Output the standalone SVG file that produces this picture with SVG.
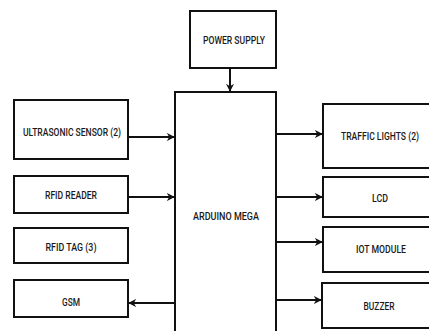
<svg xmlns="http://www.w3.org/2000/svg" width="429" height="331" viewBox="0 0 429 331">
<style>
.box{fill:#fff;stroke:#111;stroke-width:2}
.lbl{font-family:Roboto,"Liberation Sans",sans-serif;font-size:10.5px;font-weight:500;fill:#1a1a1a;text-anchor:middle;dominant-baseline:central}
.con{stroke:#111;stroke-width:2;fill:none}
</style>
<defs>
<marker id="ah" viewBox="0 0 10 10" refX="9" refY="5" markerWidth="4" markerHeight="4" orient="auto" markerUnits="strokeWidth">
<path d="M0,0 L10,5 L0,10 L3,5 Z" fill="#111"/>
</marker>
</defs>
<rect width="429" height="331" fill="#fff"/>
<g id="power-supply"><rect class="box" x="190" y="11" width="86" height="57"/><text class="lbl" x="234" y="40" textLength="62" lengthAdjust="spacingAndGlyphs">POWER SUPPLY</text></g>
<g id="arduino-mega"><rect class="box" x="175" y="92" width="101" height="250"/><text class="lbl" x="226" y="216" textLength="66" lengthAdjust="spacingAndGlyphs">ARDUINO MEGA</text></g>
<g id="ultrasonic"><rect class="box" x="14" y="100" width="114" height="59"/><text class="lbl" x="72" y="132" textLength="98" lengthAdjust="spacingAndGlyphs">ULTRASONIC SENSOR (2)</text></g>
<g id="rfid-reader"><rect class="box" x="14" y="176" width="114" height="37"/><text class="lbl" x="71" y="195" textLength="52" lengthAdjust="spacingAndGlyphs">RFID READER</text></g>
<g id="rfid-tag"><rect class="box" x="14" y="228" width="114" height="35"/><text class="lbl" x="71" y="247" textLength="51" lengthAdjust="spacingAndGlyphs">RFID TAG (3)</text></g>
<g id="gsm"><rect class="box" x="14" y="280" width="114" height="37"/><text class="lbl" x="71" y="302" textLength="18" lengthAdjust="spacingAndGlyphs">GSM</text></g>
<g id="traffic-lights"><rect class="box" x="323" y="104" width="110" height="64"/><text class="lbl" x="380" y="136" textLength="78" lengthAdjust="spacingAndGlyphs">TRAFFIC LIGHTS (2)</text></g>
<g id="lcd"><rect class="box" x="323" y="177" width="110" height="40"/><text class="lbl" x="380" y="198" textLength="16" lengthAdjust="spacingAndGlyphs">LCD</text></g>
<g id="iot-module"><rect class="box" x="323" y="227" width="110" height="45"/><text class="lbl" x="381" y="249" textLength="50" lengthAdjust="spacingAndGlyphs">IOT MODULE</text></g>
<g id="buzzer"><rect class="box" x="322" y="283" width="110" height="45"/><text class="lbl" x="379" y="306" textLength="31" lengthAdjust="spacingAndGlyphs">BUZZER</text></g>
<g id="connectors">
<line class="con" x1="230" y1="68" x2="230" y2="91" marker-end="url(#ah)"/>
<line class="con" x1="128" y1="137" x2="174" y2="137" marker-end="url(#ah)"/>
<line class="con" x1="128" y1="197" x2="174" y2="197" marker-end="url(#ah)"/>
<line class="con" x1="175" y1="303" x2="129" y2="303" marker-end="url(#ah)"/>
<line class="con" x1="276" y1="134" x2="322" y2="134" marker-end="url(#ah)"/>
<line class="con" x1="276" y1="197" x2="322" y2="197" marker-end="url(#ah)"/>
<line class="con" x1="276" y1="242" x2="322" y2="242" marker-end="url(#ah)"/>
<line class="con" x1="276" y1="300" x2="321" y2="300" marker-end="url(#ah)"/>
</g>
</svg>
